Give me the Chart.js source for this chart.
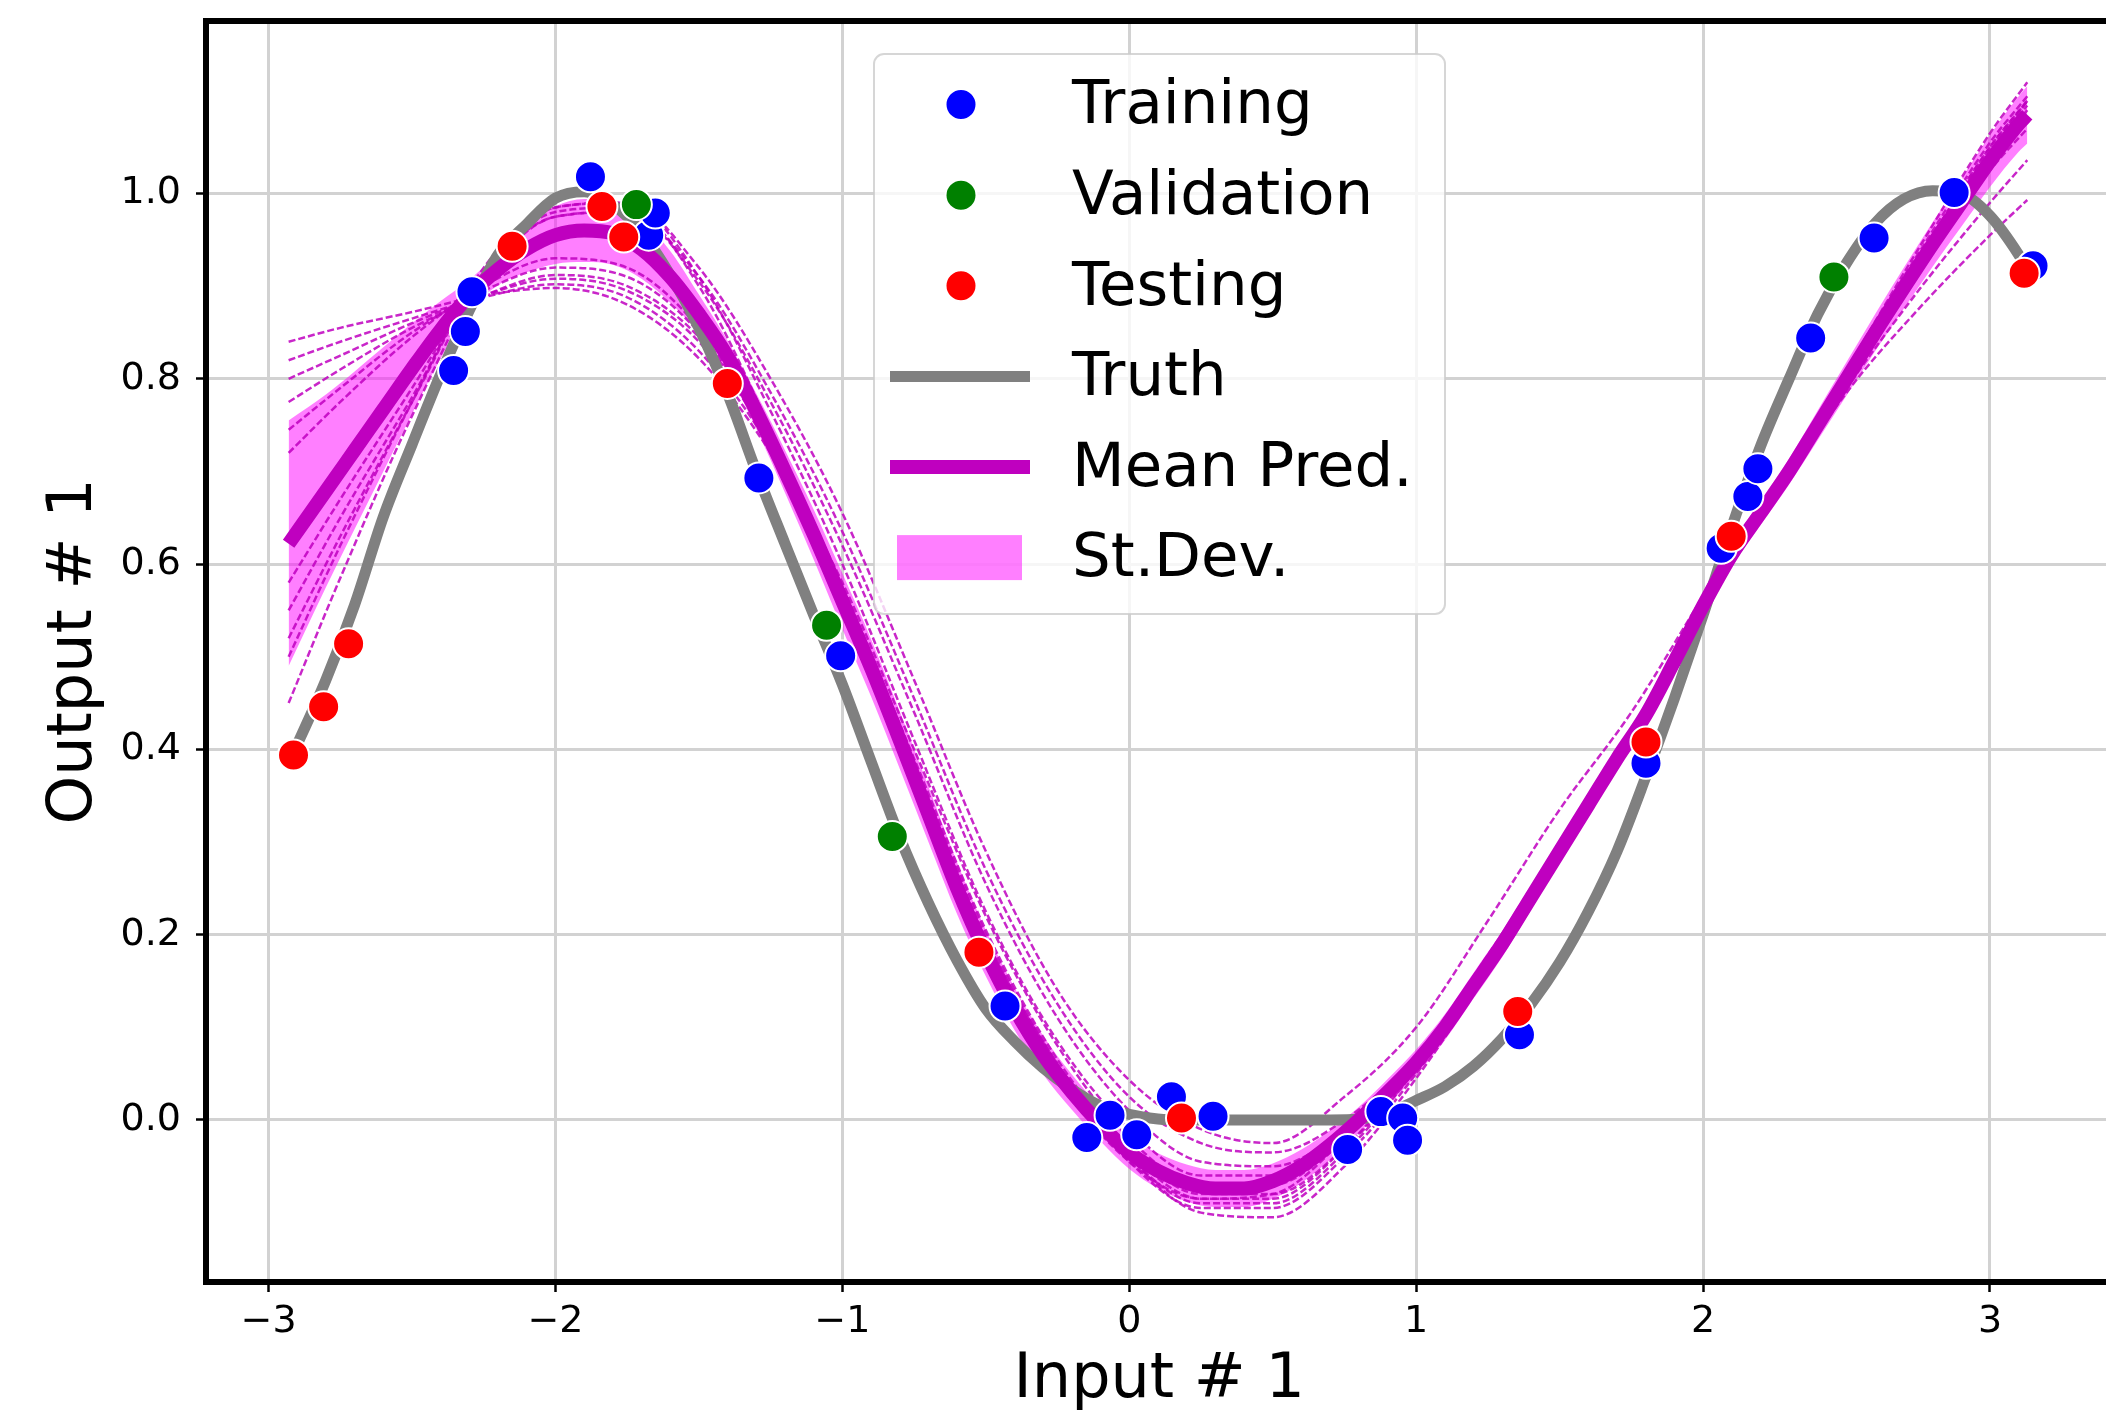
<!DOCTYPE html>
<html><head><meta charset="utf-8">
<script src="https://cdn.jsdelivr.net/npm/chart.js@4.4.1/dist/chart.umd.min.js"></script>
<style>
html,body{margin:0;padding:0;background:#fff;overflow:hidden;}
#wrap{width:2130px;height:1413px;position:relative;}
canvas{display:block;}
</style></head><body>
<div id="wrap"><canvas id="c" width="2130" height="1413"></canvas></div>
<script>
// ---------- tick labels ----------
const X_TICKS = [-3, -2, -1, 0, 1, 2, 3];
const X_TICK_LABELS = ['−3', '−2', '−1', '0', '1', '2', '3'];
const Y_TICKS = [0, 0.2, 0.4, 0.6, 0.8, 1.0];
const Y_TICK_LABELS = ['0.0', '0.2', '0.4', '0.6', '0.8', '1.0'];

// ---------- scatter data ----------
const TRAIN_X = [-2.355, -2.314, -2.291, -1.878, -1.675, -1.652, -1.291, -1.006, -0.433, -0.148, -0.067, 0.026, 0.147, 0.292, 0.761, 0.877, 0.953, 0.970, 1.360, 1.801, 2.063, 2.156, 2.191, 2.375, 2.596, 2.875, 3.150];
const TRAIN_Y = [0.809, 0.851, 0.894, 1.018, 0.955, 0.979, 0.693, 0.501, 0.123, -0.019, 0.005, -0.016, 0.025, 0.004, -0.032, 0.009, 0.002, -0.022, 0.092, 0.385, 0.617, 0.673, 0.703, 0.844, 0.952, 1.001, 0.922];
const VALID_X = [-1.718, -1.055, -0.826, 2.456];
const VALID_Y = [0.988, 0.534, 0.306, 0.910];
const TEST_X = [-2.913, -2.808, -2.721, -2.151, -1.838, -1.762, -1.401, -0.524, 0.182, 1.354, 1.801, 2.098, 3.119];
const TEST_Y = [0.394, 0.446, 0.514, 0.943, 0.986, 0.953, 0.795, 0.181, 0.002, 0.117, 0.408, 0.630, 0.914];

// ---------- curves (fine grid) ----------
const CURVE_X = [-2.93, -2.8, -2.7, -2.6, -2.5, -2.4, -2.3, -2.2, -2.1, -2.0, -1.9, -1.8, -1.7, -1.6, -1.5, -1.4, -1.3, -1.2, -1.1, -1.0, -0.9, -0.8, -0.7, -0.6, -0.5, -0.4, -0.3, -0.2, -0.1, 0.0, 0.1, 0.2, 0.3, 0.4, 0.5, 0.6, 0.7, 0.8, 0.9, 1.0, 1.1, 1.2, 1.3, 1.4, 1.5, 1.6, 1.7, 1.8, 1.9, 2.0, 2.1, 2.2, 2.3, 2.4, 2.5, 2.6, 2.7, 2.8, 2.9, 3.0, 3.1, 3.13];
const TRUTH = [0.385, 0.475, 0.556, 0.651, 0.729, 0.805, 0.874, 0.934, 0.967, 0.995, 1.002, 0.988, 0.958, 0.912, 0.855, 0.784, 0.70, 0.622, 0.545, 0.47, 0.387, 0.305, 0.234, 0.172, 0.12, 0.085, 0.056, 0.033, 0.015, 0.006, 0.001, 0, 0, 0, 0, 0, 0, 0.001, 0.007, 0.021, 0.036, 0.058, 0.088, 0.125, 0.17, 0.225, 0.29, 0.37, 0.455, 0.545, 0.64, 0.727, 0.80, 0.87, 0.925, 0.968, 0.994, 1.003, 1.0, 0.976, 0.934, 0.918];
const MEAN_PRED = [0.622, 0.679, 0.723, 0.767, 0.811, 0.853, 0.89, 0.918, 0.94, 0.955, 0.96, 0.957, 0.94, 0.91, 0.87, 0.824, 0.765, 0.70, 0.632, 0.56, 0.488, 0.41, 0.33, 0.25, 0.18, 0.12, 0.07, 0.03, -0.005, -0.035, -0.055, -0.068, -0.074, -0.074, -0.066, -0.05, -0.027, 0.0, 0.03, 0.062, 0.10, 0.145, 0.19, 0.24, 0.29, 0.34, 0.39, 0.437, 0.495, 0.555, 0.61, 0.655, 0.70, 0.75, 0.80, 0.85, 0.898, 0.945, 0.99, 1.035, 1.075, 1.085];
const STD_LOW = [0.49, 0.575, 0.638, 0.70, 0.762, 0.822, 0.873, 0.901, 0.915, 0.924, 0.926, 0.923, 0.908, 0.882, 0.849, 0.807, 0.746, 0.677, 0.605, 0.53, 0.457, 0.379, 0.30, 0.222, 0.155, 0.097, 0.049, 0.011, -0.023, -0.053, -0.074, -0.088, -0.094, -0.094, -0.085, -0.068, -0.043, -0.014, 0.016, 0.048, 0.086, 0.131, 0.176, 0.227, 0.278, 0.328, 0.379, 0.426, 0.484, 0.544, 0.598, 0.642, 0.686, 0.734, 0.782, 0.83, 0.876, 0.921, 0.964, 1.007, 1.045, 1.054];
const STD_HIGH = [0.755, 0.783, 0.808, 0.834, 0.86, 0.884, 0.907, 0.935, 0.965, 0.986, 0.994, 0.991, 0.972, 0.938, 0.891, 0.841, 0.784, 0.723, 0.659, 0.59, 0.519, 0.441, 0.36, 0.278, 0.205, 0.143, 0.091, 0.049, 0.013, -0.017, -0.036, -0.048, -0.054, -0.054, -0.047, -0.032, -0.011, 0.014, 0.044, 0.076, 0.114, 0.159, 0.204, 0.253, 0.302, 0.352, 0.401, 0.448, 0.506, 0.566, 0.622, 0.668, 0.714, 0.766, 0.818, 0.87, 0.92, 0.969, 1.016, 1.063, 1.105, 1.116];

// ---------- individual ensemble members (coarse grid) ----------
const MEMBER_X = [-2.93, -2.75, -2.5, -2.25, -2.0, -1.75, -1.5, -1.25, -1.0, -0.75, -0.5, -0.25, 0.0, 0.25, 0.5, 0.75, 1.0, 1.25, 1.5, 1.75, 2.0, 2.25, 2.5, 2.75, 3.0, 3.13];
const MEMBER_1 = [0.84, 0.855, 0.872, 0.89, 0.898, 0.88, 0.822, 0.72, 0.58, 0.40, 0.22, 0.08, -0.02, -0.07, -0.07, -0.02, 0.06, 0.17, 0.29, 0.41, 0.55, 0.67, 0.785, 0.875, 0.955, 0.993];
const MEMBER_2 = [0.82, 0.84, 0.865, 0.888, 0.902, 0.888, 0.83, 0.725, 0.575, 0.39, 0.205, 0.065, -0.03, -0.08, -0.08, -0.03, 0.055, 0.165, 0.285, 0.41, 0.55, 0.675, 0.79, 0.895, 0.99, 1.036];
const MEMBER_3 = [0.80, 0.825, 0.86, 0.89, 0.908, 0.895, 0.84, 0.73, 0.57, 0.38, 0.195, 0.06, -0.035, -0.085, -0.085, -0.03, 0.06, 0.17, 0.29, 0.415, 0.555, 0.68, 0.80, 0.915, 1.025, 1.07];
const MEMBER_4 = [0.775, 0.81, 0.855, 0.89, 0.912, 0.90, 0.845, 0.735, 0.575, 0.385, 0.20, 0.06, -0.04, -0.09, -0.09, -0.035, 0.055, 0.165, 0.29, 0.415, 0.555, 0.678, 0.80, 0.92, 1.035, 1.08];
const MEMBER_5 = [0.745, 0.79, 0.85, 0.895, 0.92, 0.91, 0.85, 0.735, 0.57, 0.38, 0.19, 0.055, -0.045, -0.095, -0.095, -0.04, 0.05, 0.165, 0.29, 0.415, 0.56, 0.68, 0.805, 0.93, 1.05, 1.10];
const MEMBER_6 = [0.72, 0.775, 0.845, 0.90, 0.93, 0.92, 0.855, 0.74, 0.575, 0.385, 0.195, 0.06, -0.04, -0.10, -0.105, -0.05, 0.045, 0.16, 0.285, 0.41, 0.555, 0.68, 0.81, 0.935, 1.055, 1.105];
const MEMBER_7 = [0.55, 0.65, 0.78, 0.915, 0.98, 0.985, 0.90, 0.745, 0.565, 0.37, 0.18, 0.045, -0.045, -0.085, -0.08, -0.02, 0.065, 0.175, 0.295, 0.42, 0.56, 0.685, 0.81, 0.94, 1.065, 1.12];
const MEMBER_8 = [0.50, 0.62, 0.775, 0.92, 0.985, 0.99, 0.91, 0.765, 0.60, 0.41, 0.225, 0.085, -0.01, -0.06, -0.06, -0.015, 0.062, 0.172, 0.293, 0.415, 0.558, 0.68, 0.80, 0.925, 1.04, 1.09];
const MEMBER_9 = [0.45, 0.585, 0.76, 0.91, 0.975, 0.98, 0.905, 0.775, 0.62, 0.44, 0.255, 0.11, 0.01, -0.045, -0.05, -0.01, 0.065, 0.172, 0.293, 0.416, 0.558, 0.68, 0.80, 0.925, 1.045, 1.10];
const MEMBER_10 = [0.52, 0.63, 0.775, 0.915, 0.985, 0.99, 0.92, 0.80, 0.655, 0.475, 0.29, 0.14, 0.043, -0.01, -0.025, 0.025, 0.10, 0.215, 0.335, 0.44, 0.565, 0.685, 0.805, 0.93, 1.05, 1.10];
const MEMBER_11 = [0.58, 0.67, 0.79, 0.91, 0.975, 0.98, 0.91, 0.785, 0.635, 0.455, 0.27, 0.125, 0.025, -0.025, -0.035, 0.0, 0.07, 0.178, 0.297, 0.418, 0.558, 0.68, 0.80, 0.925, 1.045, 1.095];
const MEMBERS = [MEMBER_1, MEMBER_2, MEMBER_3, MEMBER_4, MEMBER_5, MEMBER_6, MEMBER_7, MEMBER_8, MEMBER_9, MEMBER_10, MEMBER_11];

// ---------- helpers ----------
const pts = (xs, ys) => xs.map((x, i) => ({x: x, y: ys[i]}));
const FONT = 'DejaVu Sans';
const MAGENTA = '#bf00bf';

const datasets = [];
datasets.push({type: 'scatter', label: 'Testing', data: pts(TEST_X, TEST_Y), order: 1, legendRank: 3, legendKind: 'marker',
  backgroundColor: '#ff0000', borderColor: '#ffffff', borderWidth: 2, pointRadius: 15.5, pointHoverRadius: 15.5});
datasets.push({type: 'scatter', label: 'Validation', data: pts(VALID_X, VALID_Y), order: 2, legendRank: 2, legendKind: 'marker',
  backgroundColor: '#008000', borderColor: '#ffffff', borderWidth: 2, pointRadius: 15.5, pointHoverRadius: 15.5});
datasets.push({type: 'scatter', label: 'Training', data: pts(TRAIN_X, TRAIN_Y), order: 3, legendRank: 1, legendKind: 'marker',
  backgroundColor: '#0000ff', borderColor: '#ffffff', borderWidth: 2, pointRadius: 15.5, pointHoverRadius: 15.5});
datasets.push({type: 'line', label: 'Mean Pred.', data: pts(CURVE_X, MEAN_PRED), order: 4, legendRank: 5, legendKind: 'line',
  borderColor: MAGENTA, borderWidth: 14, pointRadius: 0, fill: false, cubicInterpolationMode: 'monotone'});
datasets.push({type: 'line', label: 'Truth', data: pts(CURVE_X, TRUTH), order: 5, legendRank: 4, legendKind: 'line',
  borderColor: '#808080', borderWidth: 11, pointRadius: 0, fill: false, cubicInterpolationMode: 'monotone'});
MEMBERS.forEach((m, k) => {
  datasets.push({type: 'line', label: 'member ' + (k + 1), data: pts(MEMBER_X, m), order: 6,
    borderColor: 'rgba(191,0,191,0.85)', borderWidth: 2.5, borderDash: [7, 3], pointRadius: 0, fill: false,
    cubicInterpolationMode: 'monotone'});
});
datasets.push({type: 'line', label: 'St.Dev.', data: pts(CURVE_X, STD_HIGH), order: 7, legendRank: 6, legendKind: 'patch',
  borderColor: 'rgba(0,0,0,0)', borderWidth: 0, pointRadius: 0, backgroundColor: 'rgba(255,0,255,0.5)',
  fill: '+1', cubicInterpolationMode: 'monotone'});
datasets.push({type: 'line', label: 'St.Dev. low', data: pts(CURVE_X, STD_LOW), order: 7,
  borderColor: 'rgba(0,0,0,0)', borderWidth: 0, pointRadius: 0, fill: false, cubicInterpolationMode: 'monotone'});

// ---------- plugins ----------
const framePlugin = {
  id: 'frame',
  afterDatasetsDraw(chart) {
    const {ctx, chartArea: a} = chart;
    ctx.save();
    ctx.strokeStyle = '#000';
    ctx.lineWidth = 6;
    ctx.lineCap = 'square';
    ctx.beginPath();
    ctx.moveTo(a.right, a.top); ctx.lineTo(a.left, a.top);
    ctx.lineTo(a.left, a.bottom); ctx.lineTo(a.right, a.bottom);
    ctx.lineTo(a.right, a.top);
    ctx.stroke();
    ctx.restore();
  }
};

const LEGEND_FONT_SIZE = 61;
const boxLegend = {
  id: 'boxLegend',
  afterDraw(chart) {
    const ctx = chart.ctx;
    const items = chart.data.datasets.filter(d => d.legendRank).sort((p, q) => p.legendRank - q.legendRank);
    const bx = 874, by = 54, bw = 571, bh = 560;
    ctx.save();
    ctx.beginPath();
    ctx.roundRect(bx, by, bw, bh, 10);
    ctx.fillStyle = 'rgba(255,255,255,0.8)';
    ctx.fill();
    ctx.strokeStyle = 'rgba(204,204,204,0.8)';
    ctx.lineWidth = 2;
    ctx.stroke();
    items.forEach((d, i) => {
      const cy = by + 50.6 + i * 90.6;
      const hx = bx + 87;
      if (d.legendKind === 'marker') {
        ctx.beginPath();
        ctx.arc(hx, cy, 15.5, 0, Math.PI * 2);
        ctx.fillStyle = d.backgroundColor;
        ctx.fill();
        ctx.lineWidth = 2;
        ctx.strokeStyle = '#fff';
        ctx.stroke();
      } else if (d.legendKind === 'line') {
        ctx.beginPath();
        ctx.moveTo(bx + 16, cy); ctx.lineTo(bx + 156, cy);
        ctx.lineWidth = d.borderWidth;
        ctx.strokeStyle = d.borderColor;
        ctx.lineCap = 'butt';
        ctx.stroke();
      } else {
        ctx.fillStyle = d.backgroundColor;
        ctx.fillRect(bx + 23, cy - 22.5, 125, 45);
      }
      ctx.fillStyle = '#000';
      ctx.font = LEGEND_FONT_SIZE + 'px "' + FONT + '"';
      ctx.textAlign = 'left';
      ctx.textBaseline = 'alphabetic';
      ctx.fillText(d.label, bx + 198, cy + 18.8);
    });
    ctx.restore();
  }
};

new Chart(document.getElementById('c'), {
  type: 'line',
  data: {datasets: datasets},
  options: {
    responsive: false,
    devicePixelRatio: 1,
    animation: false,
    events: [],
    layout: {padding: {left: 0, top: 21, right: 9, bottom: 0}},
    plugins: {legend: {display: false}, tooltip: {enabled: false}},
    scales: {
      x: {
        type: 'linear', min: -3.218, max: 3.427,
        afterBuildTicks: s => { s.ticks = X_TICKS.map(v => ({value: v})); },
        afterFit: s => { s.height = 131; s.paddingLeft = 0; s.paddingRight = 0; },
        ticks: {callback: v => X_TICK_LABELS[X_TICKS.indexOf(v)], font: {family: FONT, size: 38}, color: '#000',
                padding: 7, maxRotation: 0, autoSkip: false},
        grid: {color: '#d2d2d2', lineWidth: 3, tickColor: '#000', tickWidth: 2.5, tickLength: 10},
        border: {display: false},
        title: {display: true, text: 'Input # 1', color: '#000', font: {family: FONT, size: 62, lineHeight: 1},
                padding: {top: 0, bottom: 1}}
      },
      y: {
        type: 'linear', min: -0.1749, max: 1.1862,
        afterBuildTicks: s => { s.ticks = Y_TICKS.map(v => ({value: v})); },
        afterFit: s => { s.width = 206; s.paddingTop = 0; s.paddingBottom = 0; },
        ticks: {callback: v => Y_TICK_LABELS[Y_TICKS.indexOf(v)], font: {family: FONT, size: 38}, color: '#000',
                padding: 15, autoSkip: false},
        grid: {color: '#d2d2d2', lineWidth: 3, tickColor: '#000', tickWidth: 2.5, tickLength: 10},
        border: {display: false},
        title: {display: true, text: 'Output # 1', color: '#000', font: {family: FONT, size: 62, lineHeight: 1},
                padding: {top: 44, bottom: 0}}
      }
    }
  },
  plugins: [framePlugin, boxLegend]
});
</script>
</body></html>
